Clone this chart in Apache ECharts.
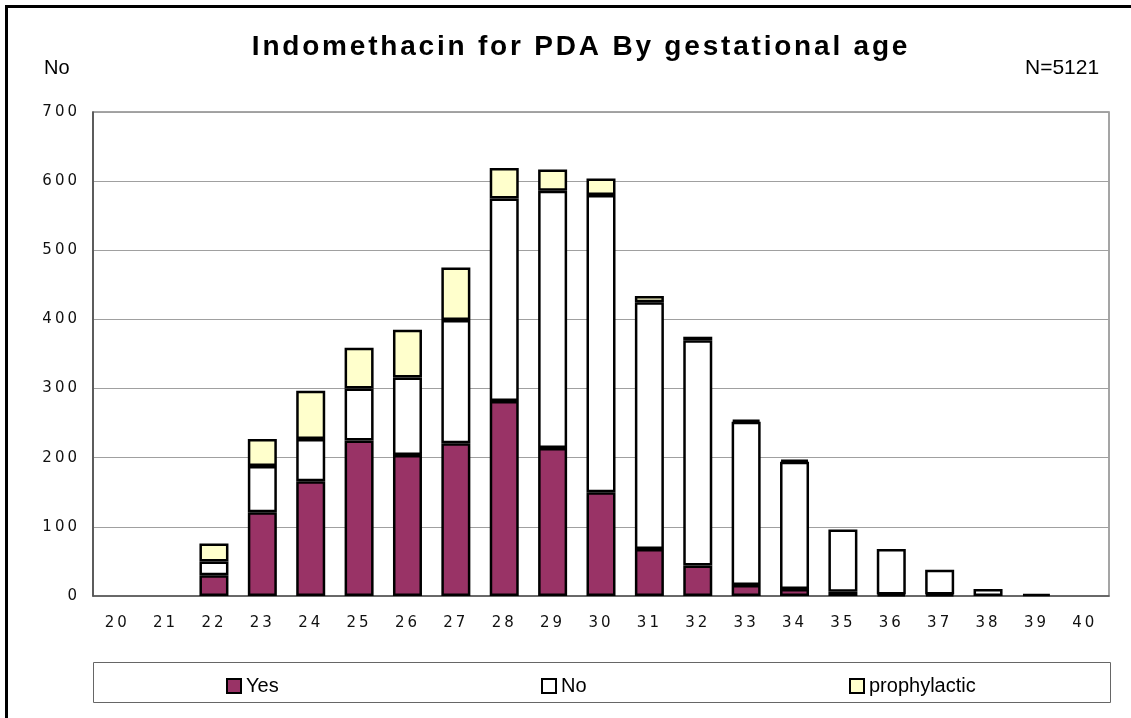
<!DOCTYPE html>
<html>
<head>
<meta charset="utf-8">
<script src="https://cdn.jsdelivr.net/npm/echarts@6/dist/echarts.min.js"></script>
<style>
  html, body { margin: 0; padding: 0; background: #fff; }
  #chart { width: 1131px; height: 718px; }
</style>
</head>
<body>
<div id="chart"></div>
<script>
// Gestational age (weeks)
const weeks = ['20','21','22','23','24','25','26','27','28','29','30','31','32','33','34','35','36','37','38','39','40'];
// Counts per week for each indomethacin group
const yesCounts   = [0, 0, 30, 121, 166, 225, 204, 221, 282, 214, 150, 68, 44, 16, 10, 6, 2, 2, 0, 0, 0];
const noCounts    = [0, 0, 20, 67, 61, 75, 112, 178, 293, 372, 430, 357, 326, 236, 184, 90, 66, 36, 10, 3, 0];
const prophCounts = [0, 0, 26, 39, 70, 59, 69, 76, 44, 31, 24, 9, 5, 3, 3, 0, 0, 0, 0, 0, 0];
const yTicks = { min: 0, max: 700, step: 100 };

// Tracked lettering for the title and the numeric axis labels
const TRACKING = [
  { match: 'bold 28px', spacing: '2.8px' },
  { match: 'DejaVu Sans', spacing: '3px' }
];
(function () {
  const proto = CanvasRenderingContext2D.prototype;
  const origFill = proto.fillText;
  proto.fillText = function (text, x, y, maxWidth) {
    const font = this.font;
    const rule = TRACKING.find(r => font.indexOf(r.match) !== -1);
    if ('letterSpacing' in this) {
      this.letterSpacing = rule ? rule.spacing : '0px';
      this.font = font;
    }
    return maxWidth === undefined ? origFill.call(this, text, x, y) : origFill.call(this, text, x, y, maxWidth);
  };
})();

const numFont = 'DejaVu Sans';
const skipZero = arr => arr.map(v => (v === 0 ? '-' : v));
const barStyle = color => ({ color: color, borderColor: '#000', borderWidth: 2.5 });

const chart = echarts.init(document.getElementById('chart'), null, { renderer: 'canvas' });

chart.setOption({
  backgroundColor: '#fff',
  animation: false,
  title: [
    {
      text: 'Indomethacin for PDA By gestational age',
      left: 576, top: 28, textAlign: 'center',
      textStyle: { fontFamily: 'Liberation Sans', fontWeight: 'bold', fontSize: 28, color: '#000' }
    },
    {
      text: 'No', left: 39, top: 53,
      textStyle: { fontFamily: 'Liberation Sans', fontWeight: 'normal', fontSize: 20, color: '#000' }
    },
    {
      text: 'N=5121', left: 1020, top: 53,
      textStyle: { fontFamily: 'Liberation Sans', fontWeight: 'normal', fontSize: 21, color: '#000' }
    }
  ],
  grid: {
    left: 93, right: 22, top: 112, bottom: 122,
    show: true, borderColor: '#888', borderWidth: 1.5, backgroundColor: 'transparent'
  },
  legend: [
    { data: ['Yes'], left: 226, top: 676 },
    { data: ['No'], left: 541, top: 676 },
    { data: ['prophylactic'], left: 849, top: 676 }
  ].map(l => Object.assign({
    icon: 'rect', itemWidth: 14, itemHeight: 14, padding: 0,
    textStyle: { fontFamily: 'Liberation Sans', fontSize: 20, color: '#000' }
  }, l)),
  xAxis: {
    type: 'category',
    data: weeks,
    boundaryGap: true,
    axisLine: { lineStyle: { color: '#555', width: 1.5 } },
    axisTick: { inside: true, length: 5, lineStyle: { color: '#666' } },
    axisLabel: { fontFamily: numFont, fontSize: 15, color: '#111', margin: 20 }
  },
  yAxis: {
    type: 'value',
    min: yTicks.min, max: yTicks.max, interval: yTicks.step,
    axisLine: { show: true, lineStyle: { color: '#444', width: 1.5 } },
    axisTick: { show: false },
    splitLine: { lineStyle: { color: '#a0a0a0', width: 1 } },
    axisLabel: { fontFamily: numFont, fontSize: 15, color: '#111', margin: 13 }
  },
  series: [
    { name: 'Yes', type: 'bar', stack: 'total', data: skipZero(yesCounts), barWidth: 29, itemStyle: barStyle('#993366') },
    { name: 'No', type: 'bar', stack: 'total', data: skipZero(noCounts), barWidth: 29, itemStyle: barStyle('#ffffff') },
    { name: 'prophylactic', type: 'bar', stack: 'total', data: skipZero(prophCounts), barWidth: 29, itemStyle: barStyle('#ffffcc') }
  ],
  graphic: [
    // legend frame
    { type: 'rect', shape: { x: 93.5, y: 662.5, width: 1017, height: 40 },
      style: { fill: 'none', stroke: '#666', lineWidth: 1 }, silent: true },
    // outer frame (top and left edges)
    { type: 'line', shape: { x1: 5, y1: 6.5, x2: 1131, y2: 6.5 }, style: { stroke: '#000', lineWidth: 3 }, silent: true },
    { type: 'line', shape: { x1: 6.5, y1: 5, x2: 6.5, y2: 718 }, style: { stroke: '#000', lineWidth: 3 }, silent: true }
  ]
});
</script>
</body>
</html>
